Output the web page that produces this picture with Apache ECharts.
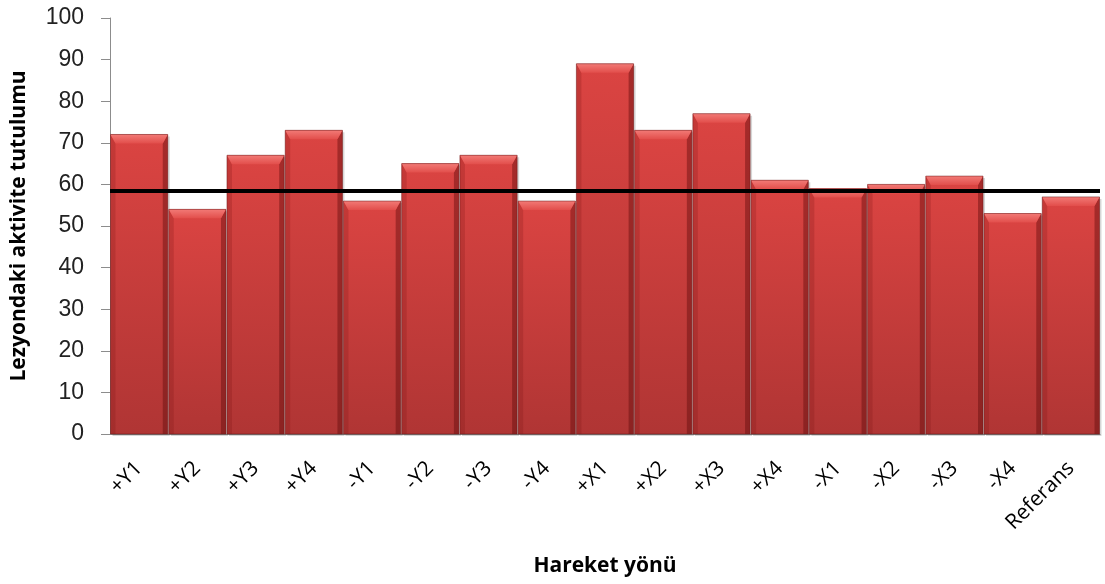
<!DOCTYPE html>
<html>
<head>
<meta charset="utf-8">
<script src="https://cdn.jsdelivr.net/npm/echarts@6/dist/echarts.min.js"></script>
<style>
  html, body { margin: 0; padding: 0; background: #fff; }
  #chart { width: 1105px; height: 584px; }
</style>
</head>
<body>
<div id="chart"></div>
<script>
// Hareket yönlerine göre lezyondaki aktivite tutulumu
const categories = ['+Y1', '+Y2', '+Y3', '+Y4', '-Y1', '-Y2', '-Y3', '-Y4',
  '+X1', '+X2', '+X3', '+X4', '-X1', '-X2', '-X3', '-X4', 'Referans'];
const values = [72, 54, 67, 73, 56, 65, 67, 56, 89, 73, 77, 61, 59, 60, 62, 53, 57];
const referenceLevel = 58.5;
const yTicks = { min: 0, max: 100, interval: 10 };

const chart = echarts.init(document.getElementById('chart'));

// Bevelled bar: body gradient, lighter top facet, darker side edges
function renderBar(params, api) {
  const i = api.value(0);
  const v = api.value(1);
  const top = api.coord([i, v]);
  const base = api.coord([i, 0]);
  const w = api.size([1, 0])[0];
  const x0 = top[0] - w / 2 + 0.5;
  const x1 = top[0] + w / 2 - 0.5;
  const y0 = top[1];
  const y1 = base[1];
  const bev = 9;
  const side = 5;
  return {
    type: 'group',
    children: [
      { // soft shadow to the right
        type: 'rect',
        shape: { x: x0 + 2, y: y0 + 2, width: x1 - x0, height: y1 - y0 },
        style: { fill: 'rgba(0,0,0,0.16)' }
      },
      {
        type: 'rect',
        shape: { x: x0, y: y0, width: x1 - x0, height: y1 - y0 },
        style: {
          fill: new echarts.graphic.LinearGradient(0, 0, 0, 1, [
            { offset: 0, color: '#db4442' },
            { offset: 1, color: '#b03534' }
          ])
        }
      },
      { // left edge
        type: 'polygon',
        shape: { points: [[x0, y0], [x0 + side, y0 + bev], [x0 + side, y1], [x0, y1]] },
        style: { fill: 'rgba(120,20,20,0.22)' }
      },
      { // right edge
        type: 'polygon',
        shape: { points: [[x1, y0], [x1 - side, y0 + bev], [x1 - side, y1], [x1, y1]] },
        style: { fill: 'rgba(90,10,10,0.42)' }
      },
      { // top facet
        type: 'polygon',
        shape: { points: [[x0, y0], [x1, y0], [x1 - side, y0 + bev], [x0 + side, y0 + bev]] },
        style: {
          fill: new echarts.graphic.LinearGradient(0, 0, 0, 1, [
            { offset: 0, color: '#f27a76' },
            { offset: 1, color: '#e24e4b' }
          ])
        }
      },
      {
        type: 'rect',
        shape: { x: x0, y: y0, width: x1 - x0, height: y1 - y0 },
        style: { fill: 'none', stroke: 'rgba(110,25,25,0.5)', lineWidth: 1 }
      }
    ]
  };
}

chart.setOption({
  animation: false,
  grid: { left: 110, right: 5, top: 18, bottom: 150, containLabel: false },
  xAxis: {
    type: 'category',
    data: categories,
    boundaryGap: true,
    name: 'Hareket yönü',
    nameLocation: 'middle',
    nameGap: 122,
    nameTextStyle: { fontFamily: 'Open Sans', fontWeight: 'bold', fontSize: 21, color: '#000' },
    axisLine: { lineStyle: { color: '#8c8c8c', width: 1 } },
    axisTick: { show: false },
    axisLabel: {
      interval: 0,
      rotate: 45,
      margin: 31,
      fontFamily: 'Open Sans',
      fontSize: 21,
      color: '#000'
    }
  },
  yAxis: {
    type: 'value',
    min: yTicks.min,
    max: yTicks.max,
    interval: yTicks.interval,
    name: 'Lezyondaki aktivite tutulumu',
    nameLocation: 'middle',
    nameGap: 80,
    nameTextStyle: { fontFamily: 'Open Sans', fontWeight: 'bold', fontSize: 21, color: '#000' },
    axisLine: { show: true, lineStyle: { color: '#8c8c8c', width: 1 } },
    axisTick: { show: true, length: 9, lineStyle: { color: '#8c8c8c' } },
    axisLabel: { margin: 26, fontFamily: 'Liberation Sans', fontSize: 23, color: '#222' },
    splitLine: { show: false }
  },
  series: [
    {
      type: 'custom',
      renderItem: renderBar,
      data: values.map((v, i) => [i, v]),
      encode: { x: 0, y: 1 },
      z: 2
    },
    {
      type: 'line',
      data: [],
      markLine: {
        symbol: 'none',
        silent: true,
        label: { show: false },
        lineStyle: { color: '#000', width: 4, type: 'solid' },
        data: [{ yAxis: referenceLevel }]
      },
      z: 5
    }
  ]
});
</script>
</body>
</html>
